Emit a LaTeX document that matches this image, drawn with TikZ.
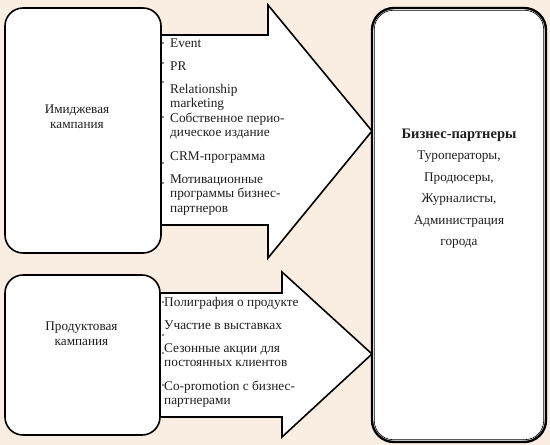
\documentclass[tikz,border=0pt]{standalone}
\usepackage{fontspec}
\setmainfont{Liberation Serif}
\usepackage{xcolor}
\definecolor{bg}{HTML}{FAEEE3}
\definecolor{ink}{HTML}{1E1E1E}
\tikzset{
  campbox/.style={draw=black,fill=white,line width=1.6pt,rounded corners=18pt,inner sep=0},
  bigarrow/.style={draw=black,fill=white,line width=1.6pt,line join=miter},
  item/.style={anchor=base west,align=left,inner sep=0,text=ink,font=\fontsize{13.3}{14.5}\selectfont},
  camptext/.style={align=center,inner sep=0,text=ink,font=\fontsize{13.2}{15}\selectfont}
}
\begin{document}
\begin{tikzpicture}[x=1pt,y=-1pt]
\fill[bg](0,0)rectangle(550,445);
\useasboundingbox(0,0)rectangle(550,445);
% block arrows
\draw[bigarrow](162,35)--(268,35)--(268,5)--(372,131)--(268,258)--(268,225)--(162,225);
\draw[bigarrow](161,293)--(282,293)--(282,272)--(372,354)--(282,437)--(282,417)--(161,417);
% campaign boxes
\node[campbox,minimum width=156pt,minimum height=245pt](img)at(83,130.5){};
\node[campbox,minimum width=155pt,minimum height=160pt](prod)at(82.5,355){};
\node[camptext](imgtxt)at(77,117){Имиджевая\\кампания};
\node[camptext](prodtxt)at(81.5,334){Продуктовая\\кампания};
% partners
\node[campbox,line width=2.4pt,rounded corners=22pt,minimum width=174pt,minimum height=434pt](partners)at(459,225){};
\draw[line width=0.6pt,rounded corners=19pt]([xshift=3.5pt,yshift=3.5pt]partners.south west)rectangle([xshift=-3.5pt,yshift=-3.5pt]partners.north east);
\node[align=center,inner sep=0,text=ink,font=\fontsize{13.2}{21.5}\selectfont](partnerstxt)at(459,188.5){{\fontsize{14.5}{21.5}\selectfont\bfseries Бизнес-партнеры}\\Туроператоры,\\Продюсеры,\\Журналисты,\\Администрация\\города};
% image campaign items (placed at the baseline of the last line)
\node[item](ev)at(170,47){Event};
\node[item](pr)at(170,70){PR};
\node[item](rel)at(170,107.5){Relationship\\marketing};
\node[item](own)at(170,136.5){Собственное перио-\\дическое издание};
\node[item](crm)at(170,160){CRM-программа};
\node[item](mot)at(170,212){Мотивационные\\программы бизнес-\\партнеров};
% product campaign items
\node[item](poly)at(164,306){Полиграфия о продукте};
\node[item](expo)at(164,329){Участие в выставках};
\node[item](season)at(164,366.5){Сезонные акции для\\постоянных клиентов};
\node[item](copro)at(164,404.5){Co-promotion с бизнес-\\партнерами};
\foreach\y in{43,63,82,117,163,183,302,335,353,385}{\fill[ink](163,\y)circle(0.9);}
\end{tikzpicture}
\end{document}
